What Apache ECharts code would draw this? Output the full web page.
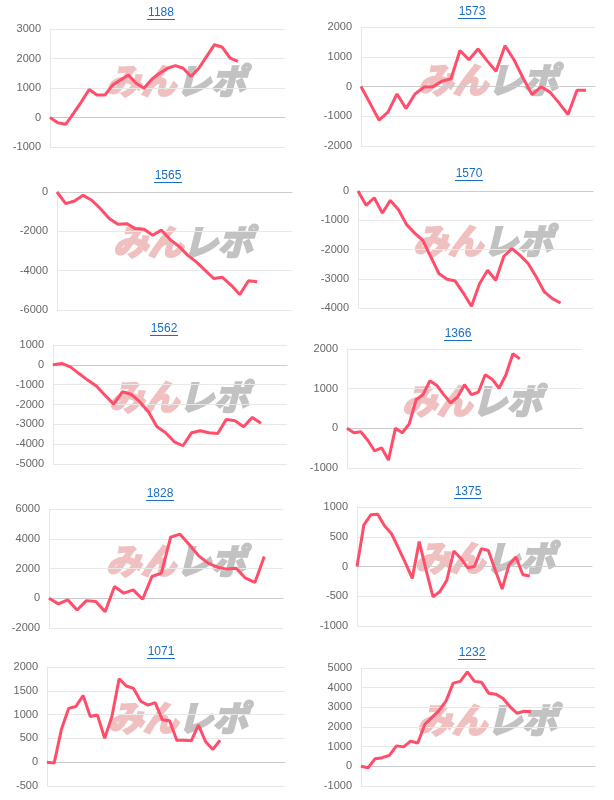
<!DOCTYPE html>
<html>
<head>
<meta charset="utf-8">
<script src="https://cdn.jsdelivr.net/npm/echarts@6/dist/echarts.min.js"></script>
<style>
html,body{margin:0;padding:0;background:#fff;}
#c{width:614px;height:800px;}
</style>
</head>
<body>
<div id="c"></div>
<script>
// ---- data ----
const titles = ['1188','1573','1565','1570','1562','1366','1828','1375','1071','1232'];
const d1188 = [0,-180,-230,140,530,950,760,760,1100,1270,1440,1160,990,1300,1500,1670,1760,1670,1390,1670,2070,2470,2380,2010,1900];
const d1573 = [0,-560,-1130,-860,-250,-740,-250,-20,-10,180,260,1210,900,1260,870,510,1370,900,290,-270,-10,-190,-550,-940,-130,-130];
const d1565 = [0,-590,-460,-170,-420,-850,-1350,-1640,-1610,-1860,-1890,-2200,-1940,-2420,-2760,-3210,-3550,-3970,-4400,-4340,-4730,-5210,-4510,-4560];
const d1570 = [0,-490,-230,-750,-320,-640,-1150,-1440,-1690,-2260,-2830,-3020,-3080,-3490,-3940,-3170,-2710,-3050,-2230,-1970,-2200,-2480,-2940,-3450,-3680,-3830];
const d1562 = [0,70,-100,-440,-770,-1070,-1530,-1980,-1360,-1480,-1860,-2370,-3120,-3420,-3880,-4080,-3420,-3320,-3420,-3460,-2750,-2820,-3120,-2650,-2950];
const d1366 = [0,-110,-85,-300,-570,-490,-800,0,-110,110,720,850,1200,1080,850,640,790,1100,850,910,1350,1240,1010,1350,1880,1750];
const d1828 = [0,-380,-110,-790,-160,-220,-900,790,340,560,-70,1460,1690,4110,4310,3600,2850,2360,2090,1960,2020,1350,1060,2810];
const d1375 = [0,700,870,880,680,550,310,60,-200,420,-60,-510,-420,-230,260,140,-20,0,300,270,-60,-380,30,160,-140,-160];
const d1071 = [0,-15,690,1130,1170,1400,960,990,500,960,1750,1600,1550,1280,1200,1250,890,870,460,460,450,780,430,270,460];
const d1232 = [0,-70,390,440,560,1040,990,1280,1190,2130,2490,2830,3330,4230,4320,4800,4320,4270,3720,3670,3460,3040,2700,2800,2770];
const seriesData = [d1188,d1573,d1565,d1570,d1562,d1366,d1828,d1375,d1071,d1232];
// number of x categories (days) per chart
const dayCounts = [31,27,28,30,28,35,26,35,34,34];
// y-axis ticks
const yMin  = [-1000,-2000,-6000,-4000,-5000,-1000,-2000,-1000,-500,-1000];
const yMax  = [3000,2000,0,0,1000,2000,6000,1000,2000,5000];
const yStep = [1000,1000,2000,1000,1000,1000,2000,500,500,1000];
const watermarkA = 'みん';
const watermarkB = 'レポ';

// ---- layout ----
const gridBox = [
  [50,29,235,118],[361,27,234,119],
  [57,192,235,118],[358,191,235,117],
  [53,345,234,119],[347,349,235,119],
  [49,509,234,119],[357,507,235,119],
  [47,667,238,119],[361,668,234,118]
];
const titlePos = [[161,13],[472,12],[168,176],[469,174],[164,329],[458,334],[160,494],[468,492],[161,652],[472,653]];
const markPos = [[176,81],[488,80],[183,242],[483,241],[179,397],[472,401],[176,561],[485,558],[178,718],[487,720]];

const LINE = '#ff4d6a';
const FONT = '"Liberation Sans", Arial, sans-serif';
const PINK = '#f0c0c0';
const GRAY = '#c2c2c2';

const grid=[], xAxis=[], yAxis=[], series=[], graphic=[];
for (let i=0;i<titles.length;i++){
  const g = gridBox[i];
  grid.push({left:g[0], top:g[1], width:g[2], height:g[3]});
  const cats = [];
  for (let k=1;k<=dayCounts[i];k++) cats.push(String(k));
  xAxis.push({type:'category', gridIndex:i, data:cats, boundaryGap:false,
    axisLabel:{show:false}, axisTick:{show:false},
    axisLine:{show:true, onZero:true, lineStyle:{color:'#cccccc', width:1}},
    splitLine:{show:false}});
  yAxis.push({type:'value', gridIndex:i, min:yMin[i], max:yMax[i], interval:yStep[i],
    axisLabel:{color:'#666', fontSize:11, fontFamily:FONT, margin:9, formatter:function(v){return String(v);}},
    axisTick:{show:false},
    axisLine:{show:true, lineStyle:{color:'#e6e6e6'}},
    splitLine:{show:true, lineStyle:{color:'#e8e8e8'}}});
  series.push({type:'line', xAxisIndex:i, yAxisIndex:i, data:seriesData[i],
    symbol:'none', showSymbol:false, z:5,
    lineStyle:{color:LINE, width:3}, animation:false});
  const t = titlePos[i];
  graphic.push({type:'text', x:t[0], y:t[1], z:10,
    style:{text:titles[i], fill:'#1a6fc4', font:'12px '+FONT, align:'center', verticalAlign:'middle'}});
  graphic.push({type:'line', z:10,
    shape:{x1:t[0]-14, y1:t[1]+6.5, x2:t[0]+14, y2:t[1]+6.5},
    style:{stroke:'#1a6fc4', lineWidth:1}});
  const m = markPos[i];
  graphic.push({type:'text', x:m[0], y:m[1], z:-1, zlevel:0,
    style:{text:'{a|'+watermarkA+'}{b|'+watermarkB+'}', align:'center', verticalAlign:'middle',
      rich:{
        a:{fill:PINK, stroke:PINK, lineWidth:2.5, fontSize:35, fontWeight:'bold', fontStyle:'italic', fontFamily:'"Noto Sans CJK JP"'},
        b:{fill:GRAY, stroke:GRAY, lineWidth:2.5, fontSize:35, fontWeight:'bold', fontStyle:'italic', fontFamily:'"Noto Sans CJK JP"'}
      }}});
}

const chart = echarts.init(document.getElementById('c'), null, {renderer:'canvas'});
chart.setOption({animation:false, backgroundColor:'#fff', grid, xAxis, yAxis, series, graphic});
</script>
</body>
</html>
